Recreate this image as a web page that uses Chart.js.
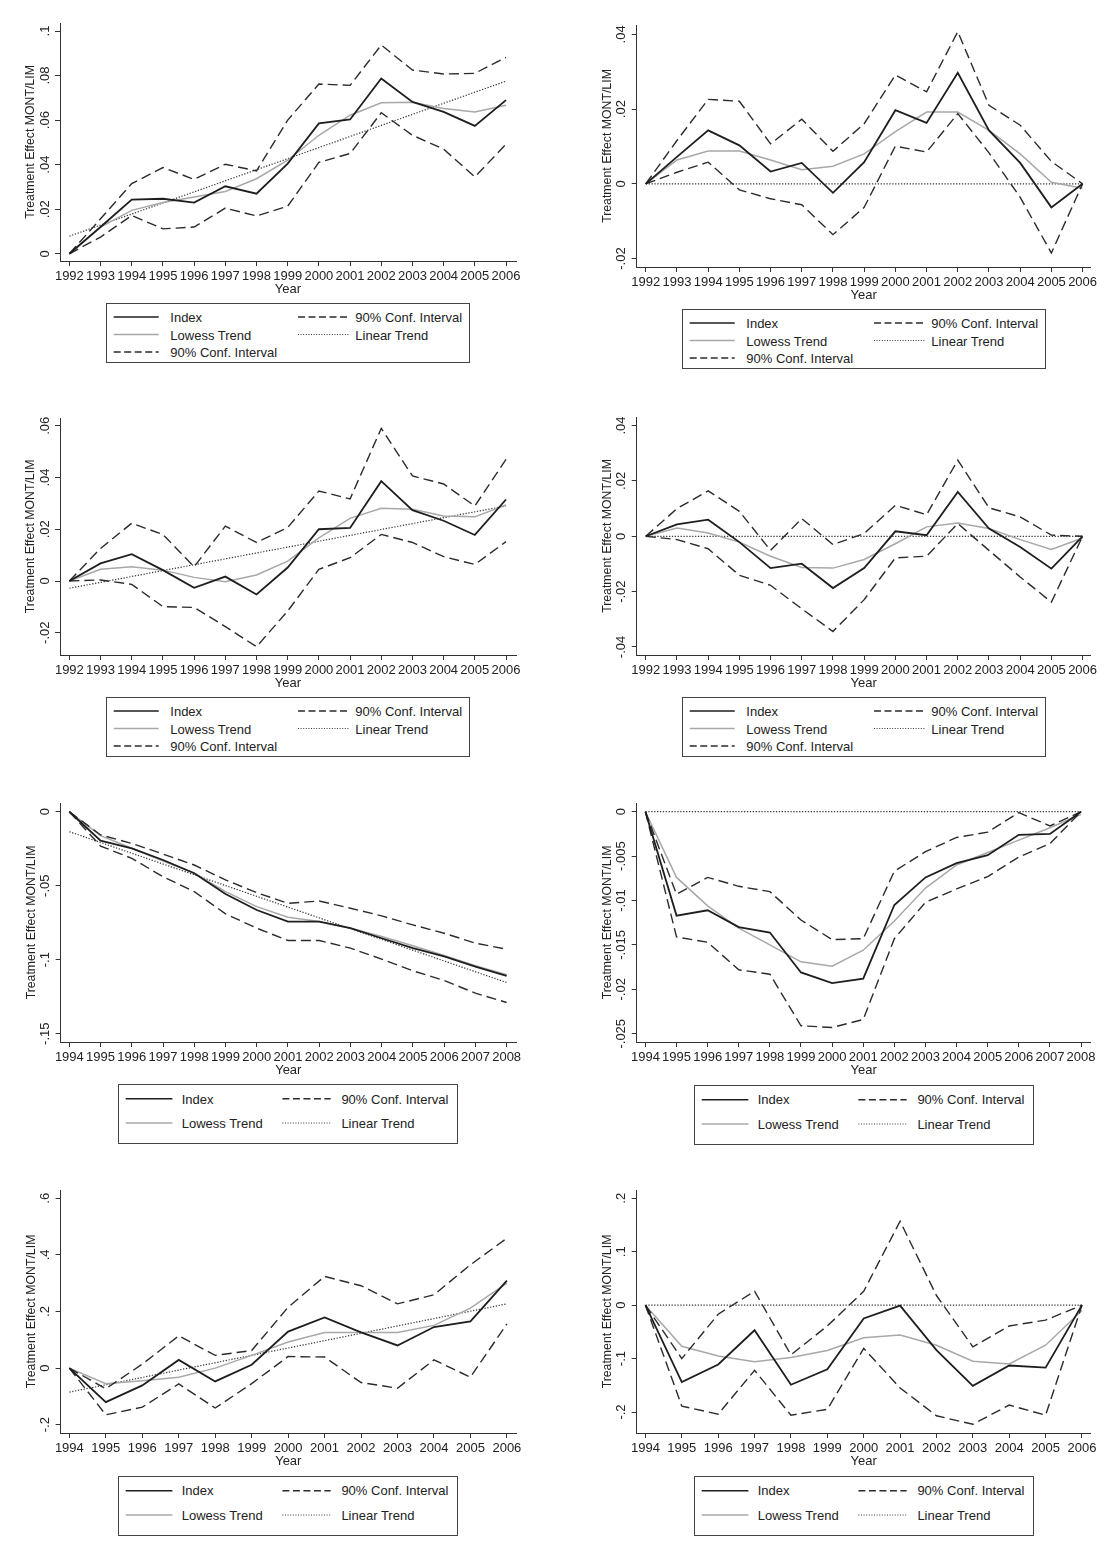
<!DOCTYPE html>
<html><head><meta charset="utf-8">
<script src="https://cdn.jsdelivr.net/npm/chart.js@4.4.1/dist/chart.umd.min.js"></script>
<style>
html,body{margin:0;padding:0;background:#fff;}
body{width:1104px;height:1544px;position:relative;overflow:hidden;font-family:"Liberation Sans",Arial,sans-serif;color:#222;}
canvas{position:absolute;}
.lg{position:absolute;border:1px solid #444;box-sizing:border-box;background:#fff;}
.lg svg{position:absolute;left:0;top:0;overflow:visible;}
.lg span{position:absolute;font-size:13px;line-height:15px;white-space:nowrap;transform:translateY(-50%);color:#222;}
</style></head><body>
<script>
// ---------- DATA ----------
const years92_06 = [1992,1993,1994,1995,1996,1997,1998,1999,2000,2001,2002,2003,2004,2005,2006];
const years94_08 = [1994,1995,1996,1997,1998,1999,2000,2001,2002,2003,2004,2005,2006,2007,2008];
const years94_06 = [1994,1995,1996,1997,1998,1999,2000,2001,2002,2003,2004,2005,2006];

// Panel 1
const p1Index  = [0,0.012,0.0243,0.0247,0.023,0.0303,0.027,0.0405,0.0585,0.0603,0.0787,0.0682,0.0637,0.0574,0.069];
const p1Upper  = [0,0.0157,0.0315,0.0387,0.0334,0.0402,0.0372,0.060,0.0762,0.0756,0.0937,0.0825,0.0807,0.081,0.0882];
const p1Lower  = [0,0.0075,0.0172,0.0112,0.012,0.0205,0.017,0.0214,0.041,0.045,0.0633,0.0532,0.047,0.0345,0.0492];
const p1Lowess = [0,0.012,0.0195,0.023,0.0255,0.028,0.0337,0.042,0.0532,0.0622,0.0678,0.068,0.0652,0.0637,0.0667];
const p1Linear = [0.0079,0.0775];
const p1YTicks = [0,0.02,0.04,0.06,0.08,0.1];
const p1YLabels = ['0','.02','.04','.06','.08','.1'];

// Panel 2
const p2Index  = [0,0.0072,0.0143,0.0103,0.0033,0.0056,-0.0024,0.0058,0.0197,0.0163,0.0297,0.0143,0.0056,-0.0063,0];
const p2Upper  = [0,0.0116,0.0226,0.0221,0.0107,0.0173,0.0087,0.0161,0.0291,0.0246,0.0407,0.021,0.0157,0.006,0];
const p2Lower  = [0,0.0031,0.0058,-0.0016,-0.004,-0.0056,-0.0136,-0.0063,0.0101,0.0085,0.0188,0.0083,-0.0036,-0.0185,0];
const p2Lowess = [0,0.0064,0.0088,0.0088,0.0064,0.0038,0.0047,0.008,0.014,0.0192,0.0192,0.0143,0.008,0.0004,-0.0012];
const p2Linear = [0,0];
const p2YTicks = [-0.02,0,0.02,0.04];
const p2YLabels = ['-.02','0','.02','.04'];

// Panel 3
const p3Index  = [0,0.0068,0.0104,0.0042,-0.0026,0.0017,-0.0052,0.0052,0.020,0.0205,0.0386,0.0274,0.0233,0.0178,0.0315];
const p3Upper  = [0,0.0126,0.0223,0.018,0.0055,0.0212,0.0149,0.0207,0.0348,0.0317,0.059,0.0406,0.0375,0.029,0.047];
const p3Lower  = [0,0.0004,-0.0013,-0.0099,-0.0102,-0.0176,-0.0254,-0.0116,0.0045,0.009,0.018,0.0149,0.0094,0.0064,0.0152];
const p3Lowess = [0,0.0045,0.0055,0.0042,0.0014,-0.0003,0.0023,0.0077,0.0167,0.0242,0.0281,0.0277,0.0251,0.0248,0.0294];
const p3Linear = [-0.0028,0.029];
const p3YTicks = [-0.02,0,0.02,0.04,0.06];
const p3YLabels = ['-.02','0','.02','.04','.06'];

// Panel 4
const p4Index  = [0,0.0043,0.006,-0.0021,-0.0115,-0.0099,-0.0187,-0.0115,0.0018,0.0004,0.016,0.0028,-0.0039,-0.0117,0];
const p4Upper  = [0,0.010,0.0164,0.009,-0.0051,0.0064,-0.003,0.001,0.0112,0.0078,0.0275,0.0103,0.007,0.0004,0];
const p4Lower  = [0,-0.0012,-0.0045,-0.0141,-0.0177,-0.0262,-0.0344,-0.0229,-0.0078,-0.0072,0.0046,-0.0051,-0.0147,-0.0238,0];
const p4Lowess = [0,0.003,0.0012,-0.0021,-0.0072,-0.0113,-0.0115,-0.0084,-0.0027,0.0034,0.0048,0.0028,-0.0012,-0.0048,-0.0006];
const p4Linear = [0,0];
const p4YTicks = [-0.04,-0.02,0,0.02,0.04];
const p4YLabels = ['-.04','-.02','0','.02','.04'];

// Panel 5
const p5Index  = [0,-0.0196,-0.0247,-0.0326,-0.0416,-0.0556,-0.0664,-0.0742,-0.0742,-0.0787,-0.0855,-0.0922,-0.0978,-0.1046,-0.1109];
const p5Upper  = [0,-0.0157,-0.0214,-0.0286,-0.036,-0.0461,-0.0547,-0.0619,-0.0603,-0.0652,-0.0704,-0.0765,-0.0821,-0.0888,-0.0929];
const p5Lower  = [0,-0.0232,-0.0315,-0.0439,-0.054,-0.069,-0.0787,-0.087,-0.087,-0.0922,-0.0996,-0.1075,-0.114,-0.1226,-0.1289];
const p5Lowess = [0,-0.0162,-0.0247,-0.0333,-0.0416,-0.054,-0.0641,-0.0713,-0.0742,-0.0787,-0.0843,-0.0906,-0.0972,-0.1041,-0.1102];
const p5Linear = [-0.0135,-0.1154];
const p5YTicks = [-0.15,-0.1,-0.05,0];
const p5YLabels = ['-.15','-.1','-.05','0'];

// Panel 6
const p6Index  = [0,-0.0117,-0.0111,-0.013,-0.0136,-0.0181,-0.0193,-0.0188,-0.0105,-0.0074,-0.0058,-0.0049,-0.0026,-0.0025,0];
const p6Upper  = [0,-0.0093,-0.0074,-0.0084,-0.009,-0.0122,-0.0144,-0.0143,-0.0067,-0.0045,-0.0029,-0.0023,-0.0001,-0.0016,0];
const p6Lower  = [0,-0.0141,-0.0147,-0.0178,-0.0183,-0.0241,-0.0243,-0.0234,-0.0143,-0.0102,-0.0087,-0.0073,-0.0051,-0.0036,0];
const p6Lowess = [0,-0.0074,-0.0106,-0.0131,-0.015,-0.0169,-0.0174,-0.0156,-0.0123,-0.0086,-0.006,-0.0046,-0.0032,-0.0018,-0.0003];
const p6Linear = [0,0];
const p6YTicks = [-0.025,-0.02,-0.015,-0.01,-0.005,0];
const p6YLabels = ['-.025','-.02','-.015','-.01','-.005','0'];

// Panel 7
const p7Index  = [0,-0.12,-0.061,0.029,-0.047,0.012,0.129,0.179,0.126,0.08,0.145,0.165,0.309];
const p7Upper  = [0,-0.073,0.014,0.114,0.045,0.062,0.215,0.324,0.291,0.227,0.259,0.365,0.459];
const p7Lower  = [0,-0.165,-0.138,-0.056,-0.141,-0.055,0.041,0.039,-0.051,-0.071,0.029,-0.032,0.156];
const p7Lowess = [0,-0.055,-0.045,-0.032,0,0.045,0.092,0.126,0.126,0.126,0.151,0.212,0.30];
const p7Linear = [-0.085,0.227];
const p7YTicks = [-0.2,0,0.2,0.4,0.6];
const p7YLabels = ['-.2','0','.2','.4','.6'];

// Panel 8
const p8Index  = [0,-0.144,-0.111,-0.047,-0.149,-0.12,-0.025,-0.001,-0.084,-0.151,-0.113,-0.117,0];
const p8Upper  = [0,-0.1,-0.017,0.026,-0.093,-0.039,0.026,0.157,0.018,-0.078,-0.039,-0.028,0];
const p8Lower  = [0,-0.189,-0.204,-0.122,-0.206,-0.195,-0.081,-0.155,-0.207,-0.223,-0.187,-0.206,0];
const p8Lowess = [0,-0.077,-0.095,-0.106,-0.098,-0.085,-0.061,-0.056,-0.075,-0.105,-0.11,-0.075,-0.01];
const p8Linear = [0,0];
const p8YTicks = [-0.2,-0.1,0,0.1,0.2];
const p8YLabels = ['-.2','-.1','0','.1','.2'];

const yTitle = 'Treatment Effect MONT/LIM';
const xTitle = 'Year';
const legendLabels = ['Index','90% Conf. Interval','Lowess Trend','Linear Trend','90% Conf. Interval'];

// ---------- LAYOUT ----------
const FONT = '"Liberation Sans", Arial, Helvetica, sans-serif';
const panels = [
  {years:years92_06, idx:p1Index, up:p1Upper, lo:p1Lower, lw:p1Lowess, lin:p1Linear, yt:p1YTicks, yl:p1YLabels,
   cx:0, L:60, R:516, T:23, B:260.5, xmin:1991.7, xmax:2006.32, ymin:-0.00324, ymax:0.1036, lg:{rows:3,left:106,top:303}},
  {years:years92_06, idx:p2Index, up:p2Upper, lo:p2Lower, lw:p2Lowess, lin:p2Linear, yt:p2YTicks, yl:p2YLabels,
   cx:552, L:636.7, R:1090.7, T:25, B:266.7, xmin:1991.71, xmax:2006.26, ymin:-0.02225, ymax:0.0425, lg:{rows:3,left:682,top:309}},
  {years:years92_06, idx:p3Index, up:p3Upper, lo:p3Lower, lw:p3Lowess, lin:p3Linear, yt:p3YTicks, yl:p3YLabels,
   cx:0, L:60, R:516, T:418, B:655, xmin:1991.7, xmax:2006.32, ymin:-0.0286, ymax:0.063, lg:{rows:3,left:106,top:697}},
  {years:years92_06, idx:p4Index, up:p4Upper, lo:p4Lower, lw:p4Lowess, lin:p4Linear, yt:p4YTicks, yl:p4YLabels,
   cx:552, L:636.7, R:1090.7, T:417, B:655, xmin:1991.71, xmax:2006.26, ymin:-0.0429, ymax:0.0431, lg:{rows:3,left:682,top:697}},
  {years:years94_08, idx:p5Index, up:p5Upper, lo:p5Lower, lw:p5Lowess, lin:p5Linear, yt:p5YTicks, yl:p5YLabels,
   cx:0, L:60.6, R:516, T:803, B:1042.3, xmin:1993.72, xmax:2008.3, ymin:-0.1556, ymax:0.0059, lg:{rows:2,left:118,top:1084}},
  {years:years94_08, idx:p6Index, up:p6Upper, lo:p6Lower, lw:p6Lowess, lin:p6Linear, yt:p6YTicks, yl:p6YLabels,
   cx:552, L:636.7, R:1090.7, T:803, B:1042.3, xmin:1993.72, xmax:2008.31, ymin:-0.02593, ymax:0.00098, lg:{rows:2,left:694,top:1084.5}},
  {years:years94_06, idx:p7Index, up:p7Upper, lo:p7Lower, lw:p7Lowess, lin:p7Linear, yt:p7YTicks, yl:p7YLabels,
   cx:0, L:60.6, R:516, T:1190, B:1433.3, xmin:1993.76, xmax:2006.25, ymin:-0.2293, ymax:0.6293, lg:{rows:2,left:118,top:1475.5}},
  {years:years94_06, idx:p8Index, up:p8Upper, lo:p8Lower, lw:p8Lowess, lin:p8Linear, yt:p8YTicks, yl:p8YLabels,
   cx:552, L:636.7, R:1090.7, T:1190, B:1433.3, xmin:1993.76, xmax:2006.24, ymin:-0.2393, ymax:0.2155, lg:{rows:2,left:694,top:1475.5}}
];

const ST = {
  idx:  {color:'#1e1e1e', width:1.8, dash:[]},
  ci:   {color:'#2b2b2b', width:1.4, dash:[10,5]},
  lw:   {color:'#a8a8a8', width:1.5, dash:[]},
  lin:  {color:'#3a3a3a', width:1.2, dash:[1.3,1.6]}
};

function pts(xs, ys){ return xs.map((x,i)=>({x:x, y:ys[i]})); }
function ds(label, data, st){
  return {label:label, data:data, borderColor:st.color, borderWidth:st.width, borderDash:st.dash,
          pointRadius:0, tension:0, fill:false, clip:false};
}

function makePanel(p){
  const top = p.T - 8;
  const H = Math.round((p.B - p.T) + 8 + 44);
  const cv = document.createElement('canvas');
  cv.width = 552; cv.height = H;
  cv.style.left = p.cx + 'px'; cv.style.top = top + 'px';
  cv.style.width = '552px'; cv.style.height = H + 'px';
  document.body.appendChild(cv);
  const first = p.years[0], last = p.years[p.years.length-1];
  const ylab = {
    id:'ylab',
    afterDraw(chart){
      const s = chart.scales.y, ctx = chart.ctx;
      ctx.save();
      ctx.font = '13px ' + FONT; ctx.fillStyle = '#222';
      ctx.textAlign = 'center'; ctx.textBaseline = 'middle';
      p.yt.forEach((v,i)=>{
        const py = s.getPixelForValue(v);
        ctx.save(); ctx.translate(s.right - 15, py); ctx.rotate(-Math.PI/2);
        ctx.fillText(p.yl[i], 0, 0); ctx.restore();
      });
      ctx.restore();
    }
  };
  new Chart(cv, {
    type:'line',
    data:{datasets:[
      ds('Index', pts(p.years, p.idx), ST.idx),
      ds('90% Conf. Interval', pts(p.years, p.up), ST.ci),
      ds('90% Conf. Interval', pts(p.years, p.lo), ST.ci),
      ds('Lowess Trend', pts(p.years, p.lw), ST.lw),
      ds('Linear Trend', pts([first, last], p.lin), ST.lin)
    ]},
    options:{
      responsive:false, animation:false, parsing:true,
      layout:{padding:{top:8, left:0, right:p.cx + 552 - p.R, bottom:0}},
      plugins:{legend:{display:false}, tooltip:{enabled:false}},
      scales:{
        x:{type:'linear', min:p.xmin, max:p.xmax, bounds:'data',
          afterBuildTicks:s=>{ s.ticks = p.years.map(v=>({value:v})); },
          afterFit:s=>{ s.height = 44; },
          ticks:{autoSkip:false, maxRotation:0, minRotation:0, padding:3, color:'#222',
                 font:{family:FONT, size:13}, callback:v=>String(v)},
          grid:{drawOnChartArea:false, drawTicks:true, tickLength:5, color:'#333', lineWidth:1},
          border:{display:true, color:'#333', width:1},
          title:{display:true, text:xTitle, color:'#222', font:{family:FONT, size:13}, padding:{top:0, bottom:7.5}}
        },
        y:{type:'linear', min:p.ymin, max:p.ymax, bounds:'data',
          afterBuildTicks:s=>{ s.ticks = p.yt.map(v=>({value:v})); },
          afterFit:s=>{ s.width = p.L - p.cx; },
          ticks:{display:false},
          grid:{drawOnChartArea:false, drawTicks:true, tickLength:5, color:'#333', lineWidth:1},
          border:{display:true, color:'#333', width:1},
          title:{display:true, text:yTitle, color:'#222', font:{family:FONT, size:12.3},
                 padding:{top:(p.L - 29 - p.cx - 7.4), bottom:0}}
        }
      }
    },
    plugins:[ylab]
  });
}

const LG3 = {w:364, h:60, rows:[14,31.5,49], c1:[6.7,51.7,63.3], c2:[191,241.7,248.3],
  items:[[0,0,'idx'],[1,0,'ci'],[0,1,'lw'],[1,1,'lin'],[0,2,'ci']]};
const LG2 = {w:340, h:60, rows:[14.7,39], c1:[6.7,53.4,62.7], c2:[163.4,211.7,222.4],
  items:[[0,0,'idx'],[1,0,'ci'],[0,1,'lw'],[1,1,'lin']]};

function makeLegend(lg){
  const L = lg.rows === 3 ? LG3 : LG2;
  const box = document.createElement('div');
  box.className = 'lg';
  box.style.left = lg.left + 'px'; box.style.top = lg.top + 'px';
  box.style.width = L.w + 'px'; box.style.height = L.h + 'px';
  const svgNS = 'http://www.w3.org/2000/svg';
  const svg = document.createElementNS(svgNS, 'svg');
  svg.setAttribute('width', L.w); svg.setAttribute('height', L.h);
  box.appendChild(svg);
  L.items.forEach((it, k)=>{
    const col = it[0] === 0 ? L.c1 : L.c2;
    const y = L.rows[it[1]] - 1;
    const st = ST[it[2]];
    const ln = document.createElementNS(svgNS, 'line');
    ln.setAttribute('x1', col[0]); ln.setAttribute('x2', col[1]);
    ln.setAttribute('y1', y); ln.setAttribute('y2', y);
    ln.setAttribute('stroke', st.color); ln.setAttribute('stroke-width', Math.min(st.width,1.5));
    if (st.dash.length) ln.setAttribute('stroke-dasharray', it[2]==='ci' ? '7 3.5' : '1 1.6');
    svg.appendChild(ln);
    const sp = document.createElement('span');
    sp.textContent = legendLabels[k];
    sp.style.left = col[2] + 'px'; sp.style.top = (L.rows[it[1]] - 1) + 'px';
    box.appendChild(sp);
  });
  document.body.appendChild(box);
}

panels.forEach(p=>{ makePanel(p); makeLegend(p.lg); });
</script>
</body></html>
